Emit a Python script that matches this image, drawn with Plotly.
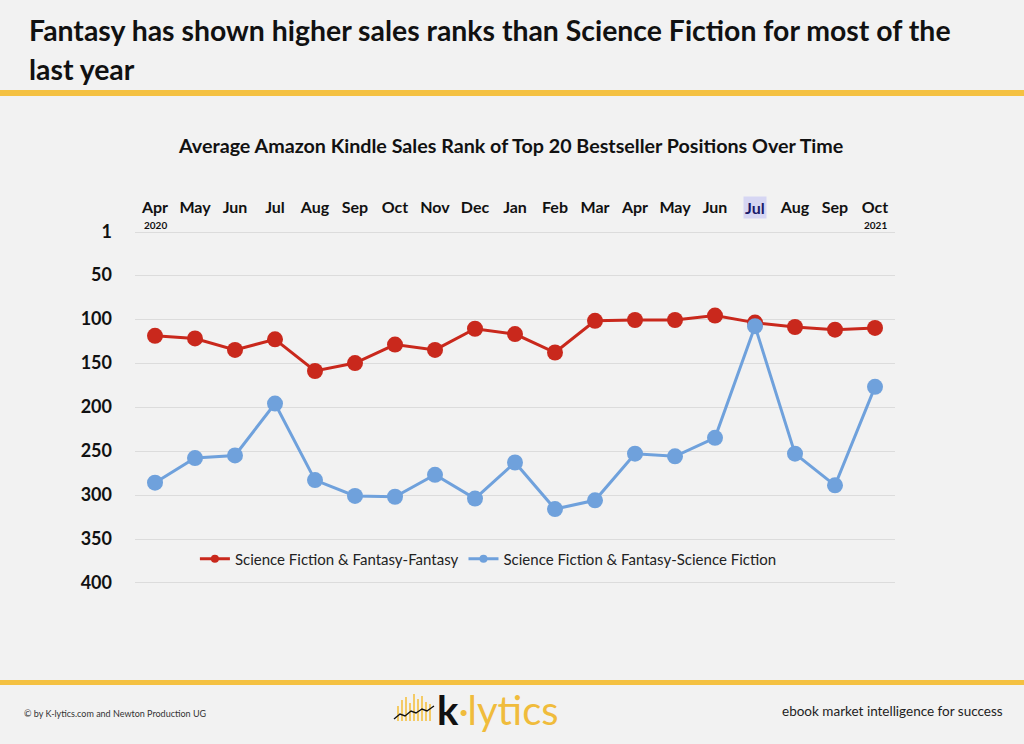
import plotly.graph_objects as go

months = ["Apr", "May", "Jun", "Jul", "Aug", "Sep", "Oct", "Nov", "Dec", "Jan",
          "Feb", "Mar", "Apr", "May", "Jun", "Jul", "Aug", "Sep", "Oct"]
fantasy = [119, 122, 135, 123, 159, 150, 129, 135, 111, 117,
           138, 102, 101, 101, 96, 104, 109, 112, 110]
scifi = [286, 258, 255, 196, 283, 301, 302, 277, 304, 263,
         316, 306, 253, 256, 235, 108, 253, 289, 177]
y_ticks = [1, 50, 100, 150, 200, 250, 300, 350, 400]
highlight_idx = 15
series_names = ["Science Fiction & Fantasy-Fantasy", "Science Fiction & Fantasy-Science Fiction"]

x = list(range(len(months)))
tick_text = ["<b>%s</b>" % m if i != highlight_idx else "" for i, m in enumerate(months)]

BG = "#f2f2f2"
GOLD = "#F4C142"
RED = "#C9281C"
BLUE = "#6FA1DC"
FONT = "Lato"

W, H = 1024, 744
pl, pr, pt, pb = 135, 129, 230, 159
pw, ph = W - pl - pr, H - pt - pb


def px(xp):
    return (xp - pl) / pw


def py(yp):
    return (H - pb - yp) / ph


fig = go.Figure()
for vals, color, name in [(fantasy, RED, series_names[0]), (scifi, BLUE, series_names[1])]:
    fig.add_trace(go.Scatter(
        x=x, y=vals, mode="lines+markers", name=name, showlegend=False,
        line=dict(color=color, width=3), marker=dict(color=color, size=16)))
# legend entries with the reference's small symbols
for color, name in [(RED, series_names[0]), (BLUE, series_names[1])]:
    fig.add_trace(go.Scatter(
        x=[None], y=[None], mode="lines+markers", name=name, showlegend=True,
        line=dict(color=color, width=3), marker=dict(color=color, size=8)))

fig.update_layout(
    width=W, height=H,
    margin=dict(l=pl, r=pr, t=pt, b=pb),
    paper_bgcolor=BG, plot_bgcolor=BG,
    font=dict(family=FONT, color="#1a1a1a"),
    showlegend=True,
    legend=dict(orientation="h", x=0.465, xanchor="center", y=py(559), yanchor="middle",
                bgcolor="rgba(0,0,0,0)", font=dict(size=15, color="#222"),
                itemwidth=30, tracegroupgap=0),
    xaxis=dict(side="top", tickmode="array", tickvals=x, ticktext=tick_text,
               range=[-0.5, 18.5], showgrid=False, zeroline=False, showline=False,
               tickfont=dict(size=16, family=FONT, color="#111"), ticks="",
               ticklabelstandoff=13),
    yaxis=dict(range=[402.3, -1.3], tickmode="array", tickvals=y_ticks,
               ticktext=["<b>%d</b>" % v for v in y_ticks],
               showgrid=True, gridcolor="#dcdcdc", gridwidth=1, zeroline=False,
               showline=False, tickfont=dict(size=18, family=FONT, color="#111"),
               ticks="", ticklabelstandoff=22),
)

# highlighted Jul label
fig.add_annotation(x=highlight_idx, xref="x", y=py(207), yref="paper", yanchor="middle",
                   text="<b>%s</b>" % months[highlight_idx], showarrow=False,
                   font=dict(size=16, family=FONT, color="#1a1a6a"),
                   bgcolor="#d6d6f3", borderpad=1)
# year labels
fig.add_annotation(x=0, xref="x", y=py(225), yref="paper", yanchor="middle",
                   text="<b>2020</b>", showarrow=False,
                   font=dict(size=10, family=FONT, color="#111"))
fig.add_annotation(x=18, xref="x", y=py(225), yref="paper", yanchor="middle",
                   text="<b>2021</b>", showarrow=False,
                   font=dict(size=10, family=FONT, color="#111"))

texts = [
    (27, 30, "left", "<b>Fantasy has shown higher sales ranks than Science Fiction for most of the</b>", 28.4, "#111"),
    (27, 69, "left", "<b>last year</b>", 28.4, "#111"),
    (510, 145, "center", "<b>Average Amazon Kindle Sales Rank of Top 20 Bestseller Positions Over Time</b>", 19.7, "#111"),
    (22, 713, "left", "© by K-lytics.com and Newton Production UG", 9, "#333"),
    (1005, 711, "right", "ebook market intelligence for success", 13.5, "#222"),
]
for xp, yp, anc, t, s, c in texts:
    fig.add_annotation(x=px(xp), xref="paper", xanchor=anc, y=py(yp), yref="paper",
                       yanchor="middle", text=t, showarrow=False,
                       font=dict(size=s, family=FONT, color=c))

# logo text
fig.add_annotation(x=px(435), xref="paper", xanchor="left", y=py(710), yref="paper",
                   yanchor="middle",
                   text="<b>k</b><span style='color:#F0BC3C'>·lytics</span>",
                   showarrow=False, font=dict(size=40, family=FONT, color="#111"))

# gold rules
fig.add_shape(type="rect", xref="paper", yref="paper", x0=px(0), x1=px(W),
              y0=py(90), y1=py(96), fillcolor=GOLD, line_width=0, layer="below")
fig.add_shape(type="rect", xref="paper", yref="paper", x0=px(0), x1=px(W),
              y0=py(680), y1=py(685), fillcolor=GOLD, line_width=0, layer="below")

# logo bars
bars = [(398, 706), (402, 700), (406, 697), (410, 703), (414, 694), (418, 699),
        (422, 696), (426, 702), (430, 704)]
for bx, top in bars:
    fig.add_shape(type="line", xref="paper", yref="paper", x0=px(bx), x1=px(bx),
                  y0=py(top), y1=py(721), line=dict(color=GOLD, width=1.6))
zig = [(394, 719), (400, 714), (405, 716), (411, 711), (416, 713), (422, 709), (427, 711), (434, 706)]
path = "M " + " L ".join("%.4f,%.4f" % (px(a), py(b)) for a, b in zig)
fig.add_shape(type="path", xref="paper", yref="paper", path=path,
              line=dict(color="#111", width=1.4))

fig.write_html("out.html")
